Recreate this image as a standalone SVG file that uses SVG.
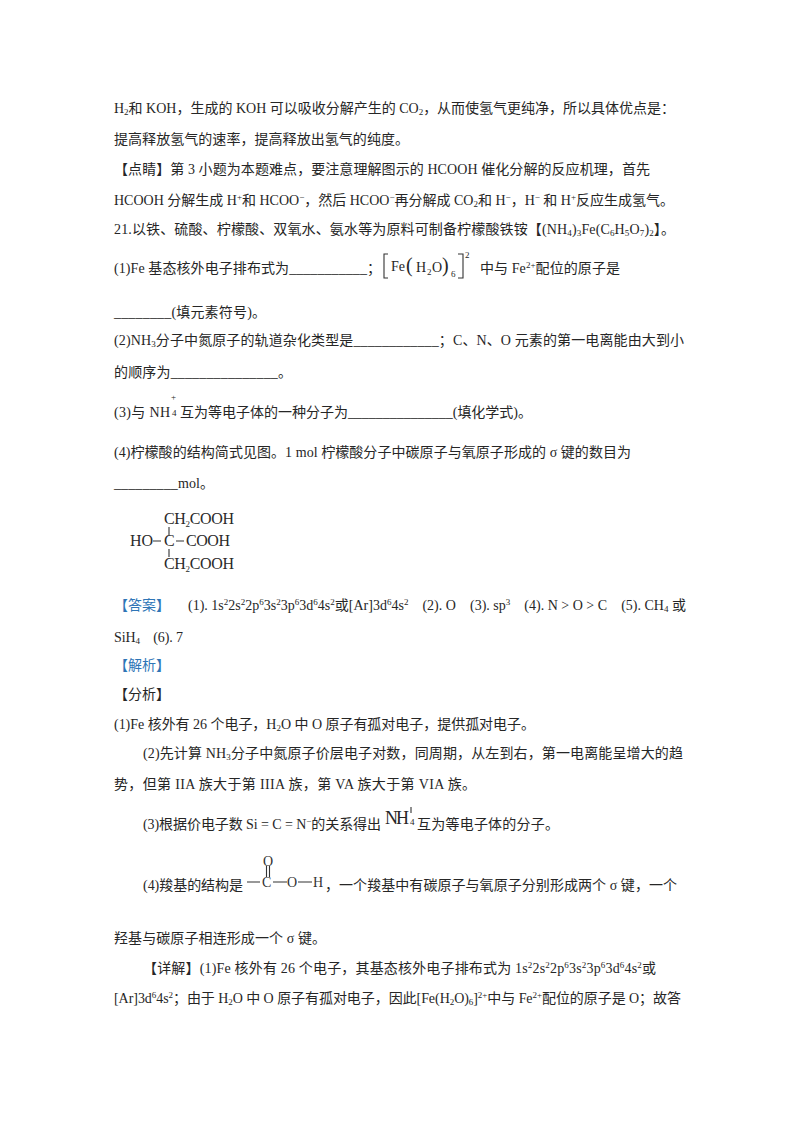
<svg xmlns="http://www.w3.org/2000/svg" width="800" height="1132" viewBox="0 0 800 1132">
<style>
text{font-family:"Liberation Serif","Noto Sans CJK SC",sans-serif;font-size:14px;fill:#262626;white-space:pre}
.b{font-size:9px}
.k{fill:#2e75b6;font-family:"Noto Sans CJK SC",sans-serif}
.f{font-size:16px;fill:#2a2a2a}
.g{font-size:14px;fill:#333}
.l{stroke:#333;stroke-width:1.100;fill:none}
</style>
<rect width="800" height="1132" fill="#fff"/>
<g id="para-top">
<text x="114" y="113" textLength="561">H<tspan class="b" dy="2">2</tspan><tspan dy="-2">和 KOH，生成的 KOH 可以吸收分解产生的 CO</tspan><tspan class="b" dy="2">2</tspan><tspan dy="-2">，从而使氢气更纯净，所以具体优点是：</tspan></text>
<text x="114" y="144" textLength="295">提高释放氢气的速率，提高释放出氢气的纯度。</text>
<text x="114" y="174" textLength="536">【点睛】第 3 小题为本题难点，要注意理解图示的 HCOOH 催化分解的反应机理，首先</text>
<text x="114" y="205" textLength="560">HCOOH 分解生成 H<tspan class="b" dy="-5">+</tspan><tspan dy="5">和 HCOO</tspan><tspan class="b" dy="-5">−</tspan><tspan dy="5">，然后 HCOO</tspan><tspan class="b" dy="-5">−</tspan><tspan dy="5">再分解成 CO</tspan><tspan class="b" dy="2">2</tspan><tspan dy="-2">和 H</tspan><tspan class="b" dy="-5">−</tspan><tspan dy="5">，H</tspan><tspan class="b" dy="-5">−</tspan><tspan dy="5"> 和 H</tspan><tspan class="b" dy="-5">+</tspan><tspan dy="5">反应生成氢气。</tspan></text>
<text x="114" y="234" textLength="561">21.以铁、硫酸、柠檬酸、双氧水、氨水等为原料可制备柠檬酸铁铵【(NH<tspan class="b" dy="2">4</tspan><tspan dy="-2">)</tspan><tspan class="b" dy="2">3</tspan><tspan dy="-2">Fe(C</tspan><tspan class="b" dy="2">6</tspan><tspan dy="-2">H</tspan><tspan class="b" dy="2">5</tspan><tspan dy="-2">O</tspan><tspan class="b" dy="2">7</tspan><tspan dy="-2">)</tspan><tspan class="b" dy="2">2</tspan><tspan dy="-2">】。</tspan></text>
</g>
<g id="question-1">
<text x="114" y="273" textLength="267">(1)Fe 基态核外电子排布式为___________；</text>
<path class="l" d="M388 254H384V278H388M458 254H463V278H458"/>
<text x="391" y="271">Fe</text>
<text x="406" y="272" style="font-size:20px">(</text>
<text x="416" y="272">H</text><text class="b" x="427" y="275">2</text><text x="432" y="272">O</text>
<text x="442" y="272" style="font-size:20px">)</text>
<text class="b" x="451" y="277">6</text>
<text class="b" x="465" y="258">2</text>
<text x="480" y="273" textLength="140">中与 Fe<tspan class="b" dy="-5">2+</tspan><tspan dy="5">配位的原子是</tspan></text>
<text x="114" y="317" textLength="152">________(填元素符号)。</text>
</g>
<g id="question-2">
<text x="114" y="345" textLength="570">(2)NH<tspan class="b" dy="2">3</tspan><tspan dy="-2">分子中氮原子的轨道杂化类型是____________；C、N、O 元素的第一电离能由大到小</tspan></text>
<text x="114" y="377" textLength="178">的顺序为_______________。</text>
</g>
<g id="question-3">
<text x="114" y="417" textLength="56">(3)与 NH</text>
<text class="b" x="171" y="400">+</text>
<text class="b" x="172" y="416">4</text>
<text x="180" y="417" textLength="352">互为等电子体的一种分子为_______________(填化学式)。</text>
</g>
<g id="question-4">
<text x="114" y="457" textLength="517">(4)柠檬酸的结构简式见图。1 mol 柠檬酸分子中碳原子与氧原子形成的 σ 键的数目为</text>
<text x="114" y="488" textLength="100">_________mol。</text>
</g>
<g id="citric-acid">
<text class="f" x="164" y="524" textLength="70">CH<tspan class="b" dy="3">2</tspan><tspan dy="-3">COOH</tspan></text>
<text class="f" x="130" y="546">HO</text>
<text class="f" x="164" y="546">C</text>
<text class="f" x="186" y="546" textLength="44">COOH</text>
<text class="f" x="164" y="569" textLength="70">CH<tspan class="b" dy="3">2</tspan><tspan dy="-3">COOH</tspan></text>
<path class="l" d="M169 527V535M169 549V557M153 541H161M176 541H184"/>
</g>
<g id="answer">
<text class="k" x="114" y="610" textLength="56">【答案】</text>
<text x="188" y="610" textLength="498">(1). 1s<tspan class="b" dy="-5">2</tspan><tspan dy="5">2s</tspan><tspan class="b" dy="-5">2</tspan><tspan dy="5">2p</tspan><tspan class="b" dy="-5">6</tspan><tspan dy="5">3s</tspan><tspan class="b" dy="-5">2</tspan><tspan dy="5">3p</tspan><tspan class="b" dy="-5">6</tspan><tspan dy="5">3d</tspan><tspan class="b" dy="-5">6</tspan><tspan dy="5">4s</tspan><tspan class="b" dy="-5">2</tspan><tspan dy="5">或[Ar]3d</tspan><tspan class="b" dy="-5">6</tspan><tspan dy="5">4s</tspan><tspan class="b" dy="-5">2</tspan><tspan dy="5">    (2). O    (3). sp</tspan><tspan class="b" dy="-5">3</tspan><tspan dy="5">    (4). N &gt; O &gt; C    (5). CH</tspan><tspan class="b" dy="2">4</tspan><tspan dy="-2"> 或</tspan></text>
<text x="114" y="642" textLength="69">SiH<tspan class="b" dy="2">4</tspan><tspan dy="-2">    (6). 7</tspan></text>
<text class="k" x="114" y="670" textLength="56">【解析】</text>
</g>
<g id="analysis">
<text x="114" y="699" textLength="56" style="font-family:'Noto Sans CJK SC',sans-serif">【分析】</text>
<text x="114" y="729" textLength="421">(1)Fe 核外有 26 个电子，H<tspan class="b" dy="2">2</tspan><tspan dy="-2">O 中 O 原子有孤对电子，提供孤对电子。</tspan></text>
<text x="143" y="758" textLength="540">(2)先计算 NH<tspan class="b" dy="2">3</tspan><tspan dy="-2">分子中氮原子价层电子对数，同周期，从左到右，第一电离能呈增大的趋</tspan></text>
<text x="114" y="789" textLength="362">势，但第 IIA 族大于第 IIIA 族，第 VA 族大于第 VIA 族。</text>
<text x="143" y="829" textLength="238">(3)根据价电子数 Si = C = N<tspan class="b" dy="-5">−</tspan><tspan dy="5">的关系得出</tspan></text>
<text x="385" y="824" style="font-size:18px" textLength="24">NH</text>
<path class="l" d="M411 807V813"/>
<text class="b" x="410" y="825">4</text>
<text x="417" y="829" textLength="142">互为等电子体的分子。</text>
</g>
<g id="carboxyl">
<text x="143" y="890" textLength="100">(4)羧基的结构是</text>
<text class="g" x="263" y="866">O</text>
<path class="l" d="M266.500 866V877M269.500 866V877M247 882H260M273 882H287M298 882H312"/>
<text class="g" x="262" y="887">C</text>
<text class="g" x="287" y="887">O</text>
<text class="g" x="313" y="887">H</text>
<text x="325" y="890" textLength="352">，一个羧基中有碳原子与氧原子分别形成两个 σ 键，一个</text>
<text x="114" y="943" textLength="212">羟基与碳原子相连形成一个 σ 键。</text>
</g>
<g id="detail">
<text x="143" y="973" textLength="513">【详解】(1)Fe 核外有 26 个电子，其基态核外电子排布式为 1s<tspan class="b" dy="-5">2</tspan><tspan dy="5">2s</tspan><tspan class="b" dy="-5">2</tspan><tspan dy="5">2p</tspan><tspan class="b" dy="-5">6</tspan><tspan dy="5">3s</tspan><tspan class="b" dy="-5">2</tspan><tspan dy="5">3p</tspan><tspan class="b" dy="-5">6</tspan><tspan dy="5">3d</tspan><tspan class="b" dy="-5">6</tspan><tspan dy="5">4s</tspan><tspan class="b" dy="-5">2</tspan><tspan dy="5">或</tspan></text>
<text x="114" y="1003" textLength="567">[Ar]3d<tspan class="b" dy="-5">6</tspan><tspan dy="5">4s</tspan><tspan class="b" dy="-5">2</tspan><tspan dy="5">；由于 H</tspan><tspan class="b" dy="2">2</tspan><tspan dy="-2">O 中 O 原子有孤对电子，因此[Fe(H</tspan><tspan class="b" dy="2">2</tspan><tspan dy="-2">O)</tspan><tspan class="b" dy="2">6</tspan><tspan dy="-2">]</tspan><tspan class="b" dy="-5">2+</tspan><tspan dy="5">中与 Fe</tspan><tspan class="b" dy="-5">2+</tspan><tspan dy="5">配位的原子是 O；故答</tspan></text>
</g>
</svg>
